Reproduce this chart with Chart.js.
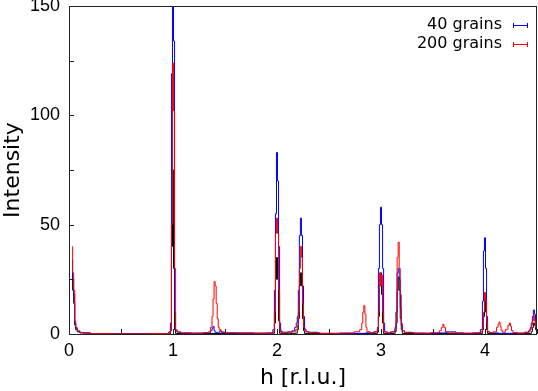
<!DOCTYPE html>
<html>
<head>
<meta charset="utf-8">
<script src="https://cdn.jsdelivr.net/npm/chart.js@4/dist/chart.umd.min.js"></script>
<style>
html,body{margin:0;padding:0;background:#fff;}
#c{display:block;}
</style>
</head>
<body>
<canvas id="c" width="538" height="391"></canvas>
<script>
// ---- data (h in r.l.u., intensity) ----
const h40 = [0.03,0.04,0.05,0.06,0.07,0.09,0.12,0.16,0.22,0.5,0.95,0.97,0.98,0.99,1.00,1.01,1.02,1.03,1.05,1.10,1.25,1.35,1.37,1.38,1.39,1.40,1.41,1.44,1.46,1.47,1.55,1.70,1.85,1.95,1.97,1.98,1.99,2.00,2.01,2.02,2.03,2.04,2.08,2.13,2.16,2.18,2.19,2.20,2.21,2.22,2.23,2.24,2.25,2.26,2.27,2.29,2.33,2.45,2.65,2.80,2.90,2.96,2.97,2.98,2.99,3.00,3.01,3.02,3.03,3.04,3.08,3.13,3.14,3.15,3.16,3.17,3.18,3.19,3.20,3.21,3.24,3.35,3.50,3.60,3.66,3.70,3.74,3.85,3.94,3.97,3.98,3.99,4.00,4.01,4.02,4.03,4.06,4.20,4.35,4.41,4.43,4.44,4.45,4.46,4.47,4.48,4.49,4.50];
const i40 = [34,25,18,5,2.5,1.2,0.6,0.4,0.2,0.1,0.2,1,5,119,150,134,10,1.5,0.8,0.5,0.4,0.5,1.5,2.5,3.5,1.5,0.6,0.8,1.5,0.6,0.4,0.4,0.3,0.5,2,20,55,83,70,40,5,1,0.8,1,1.5,3,5,8,20,45,53,45,22,8,2,1,0.8,0.3,0.3,0.3,0.5,1,3,30,50,58,50,30,5,1,0.6,1,3,10,28,30,25,12,4,1.5,0.8,0.4,0.3,0.5,1,1,0.5,0.3,0.5,2,15,38,44,30,8,1,0.5,0.3,0.4,0.8,1.5,3,5,8,11,9,5,2];

const h200 = [0.03,0.04,0.05,0.06,0.07,0.09,0.12,0.16,0.22,0.6,0.95,0.97,0.98,0.99,1.00,1.01,1.02,1.03,1.05,1.10,1.25,1.33,1.35,1.37,1.38,1.39,1.40,1.41,1.42,1.43,1.44,1.45,1.47,1.52,1.70,1.85,1.95,1.97,1.98,1.99,2.00,2.01,2.02,2.03,2.05,2.12,2.17,2.19,2.20,2.21,2.22,2.23,2.24,2.25,2.26,2.28,2.33,2.50,2.70,2.78,2.81,2.82,2.83,2.84,2.85,2.86,2.87,2.92,2.96,2.97,2.98,2.99,3.00,3.01,3.02,3.03,3.06,3.12,3.14,3.15,3.16,3.17,3.18,3.19,3.20,3.21,3.24,3.40,3.55,3.57,3.59,3.60,3.61,3.63,3.66,3.80,3.95,3.97,3.98,3.99,4.00,4.01,4.02,4.03,4.06,4.10,4.12,4.13,4.14,4.15,4.16,4.18,4.21,4.23,4.24,4.25,4.26,4.28,4.35,4.42,4.44,4.45,4.46,4.47,4.48,4.49,4.50];
const i200 = [40,28,20,6,3,1.5,0.7,0.4,0.2,0.1,0.2,0.8,2,50,124,102,30,2,1,0.5,0.4,0.6,1,3,8,16,24,22,14,7,3,2,1,0.6,0.5,0.4,0.3,1,10,46,53,46,20,2,0.6,0.8,1,2,4,10,30,40,35,14,3,1,0.6,0.3,0.5,1,2,5,10,13,9,3,1,0.5,1,2,10,28,22,27,10,1,0.5,1,2,10,35,42,30,18,5,1.5,0.7,0.4,0.6,1.5,3,4.5,3,1,0.5,0.4,0.5,1,3,10,19,15,5,1,0.6,1,3,4.5,5.5,3.5,1.5,0.8,2,4,5,3.5,1.5,0.6,0.4,0.8,2,4,6,8.5,6,3,1.5];

// third (unlabelled, black) curve, mostly hidden under the two others
const hAll = [0.03,0.04,0.05,0.06,0.07,0.09,0.12,0.30,0.97,0.98,0.99,1.00,1.01,1.02,1.03,1.97,1.98,1.99,2.00,2.01,2.02,2.03,2.19,2.20,2.21,2.22,2.23,2.24,2.25,2.26,2.27,2.96,2.97,2.98,2.99,3.00,3.01,3.02,3.03,3.13,3.14,3.15,3.16,3.17,3.18,3.19,3.20,3.21,3.97,3.98,3.99,4.00,4.01,4.02,4.03,4.44,4.45,4.46,4.47,4.48,4.49,4.50];
const iAll = [28,20,14,4,2,1,0.5,0.1,0.1,1.5,40,75,30,2,0.2,0.3,5,25,35,25,6,0.3,0.3,2,7,22,28,22,7,1.5,0.2,0.2,0.8,8,22,28,18,5,0.2,0.2,1,5,20,26,20,7,2,0.2,0.2,2,8,16,10,2,0.2,0.2,1,3,5,4,2,0.8];

const seriesLabels = ['40 grains', '200 grains'];
const seriesColors = ['#0000ff', '#ff0000', '#000000'];
const xTicks = [0, 0.5, 1, 1.5, 2, 2.5, 3, 3.5, 4, 4.5];
const xTickLabels = ['0', '', '1', '', '2', '', '3', '', '4', ''];
const yTicks = [0, 25, 50, 75, 100, 125, 150];
const yTickLabels = ['0', '', '50', '', '100', '', '150'];

function pts(xs, ys) { return xs.map((x, i) => ({ x: x, y: ys[i] })); }

const frame = {
  id: 'frame',
  afterDatasetsDraw(chart) {
    const ctx = chart.ctx, a = chart.chartArea;
    const xs = chart.scales.x, ys = chart.scales.y;
    ctx.save();
    ctx.strokeStyle = '#222';
    ctx.lineWidth = 1;
    ctx.beginPath();
    xTicks.forEach(v => {
      const px = Math.round(xs.getPixelForValue(v)) + 0.5;
      ctx.moveTo(px, a.bottom); ctx.lineTo(px, a.bottom - 5);
    });
    yTicks.forEach(v => {
      const py = Math.round(ys.getPixelForValue(v)) + 0.5;
      ctx.moveTo(a.left, py); ctx.lineTo(a.left + 5, py);
    });
    ctx.stroke();
    ctx.strokeRect(Math.round(a.left) + 0.5, Math.round(a.top) + 0.5,
                   Math.round(a.right - a.left) - 1, Math.round(a.bottom - a.top));
    // legend
    ctx.font = '16px "DejaVu Sans"';
    ctx.textAlign = 'right';
    ctx.textBaseline = 'middle';
    seriesLabels.forEach((lab, k) => {
      const y = 25 + k * 19;
      ctx.fillStyle = '#000';
      ctx.fillText(lab, 502, y);
      ctx.fillStyle = seriesColors[k];
      ctx.fillRect(513, y, 15, 1);
      ctx.fillRect(513, y - 2, 1, 5);
      ctx.fillRect(527, y - 2, 1, 5);
    });
    ctx.restore();
  }
};

function noPad(s) { s.paddingTop = 0; s.paddingBottom = 0; s.paddingLeft = 0; s.paddingRight = 0; }

new Chart(document.getElementById('c'), {
  type: 'line',
  data: {
    datasets: [
      { label: seriesLabels[0], data: pts(h40, i40), borderColor: seriesColors[0], borderWidth: 1, pointRadius: 0, stepped: 'middle', order: 1, fill: false },
      { label: seriesLabels[1], data: pts(h200, i200), borderColor: seriesColors[1], borderWidth: 1, pointRadius: 0, stepped: 'middle', order: 0, fill: false },
      { label: '', data: pts(hAll, iAll), borderColor: seriesColors[2], borderWidth: 1, pointRadius: 0, stepped: 'middle', order: 2, fill: false }
    ]
  },
  options: {
    responsive: false,
    animation: false,
    devicePixelRatio: 1,
    layout: { padding: { top: 6, right: 1, left: 0, bottom: 0 } },
    plugins: { legend: { display: false }, tooltip: { enabled: false } },
    scales: {
      x: {
        type: 'linear', min: 0, max: 4.5,
        afterBuildTicks: s => { s.ticks = xTicks.map(v => ({ value: v })); },
        afterFit: s => { s.height = 57; noPad(s); },
        grid: { display: false, drawTicks: false },
        border: { display: false },
        ticks: {
          padding: 6, color: '#000', maxRotation: 0, autoSkip: false,
          font: { family: '"Liberation Sans"', size: 18 },
          callback: (v, i) => xTickLabels[i]
        },
        title: { display: true, text: 'h [r.l.u.]', color: '#000', padding: 0,
                 font: { family: '"DejaVu Sans"', size: 22 } }
      },
      y: {
        type: 'linear', min: 0, max: 150,
        afterBuildTicks: s => { s.ticks = yTicks.map(v => ({ value: v })); },
        afterFit: s => { s.width = 69; noPad(s); },
        grid: { display: false, drawTicks: false },
        border: { display: false },
        ticks: {
          padding: 9, color: '#000', autoSkip: false,
          font: { family: '"Liberation Sans"', size: 18 },
          callback: (v, i) => yTickLabels[i]
        },
        title: { display: true, text: 'Intensity', color: '#000', padding: 0,
                 font: { family: '"DejaVu Sans"', size: 22 } }
      }
    }
  },
  plugins: [frame]
});
</script>
</body>
</html>
